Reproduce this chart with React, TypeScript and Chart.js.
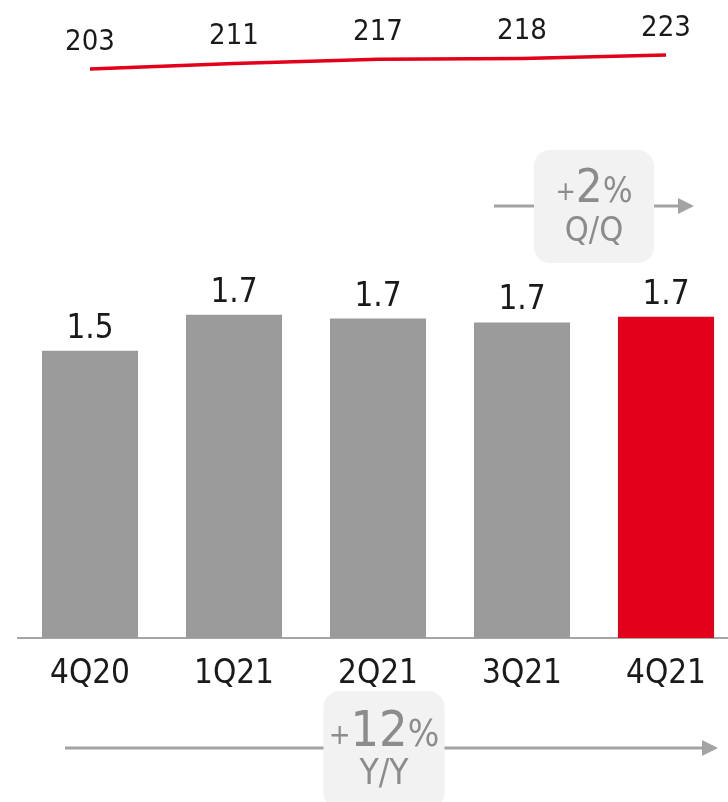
import React, { useEffect, useRef } from "react";
import { Chart, registerables } from "chart.js";

Chart.register(...registerables);

// ---- data ----
const categories = ["4Q20", "1Q21", "2Q21", "3Q21", "4Q21"];
const barValues = [1.52, 1.71, 1.69, 1.67, 1.7];
const barLabels = ["1.5", "1.7", "1.7", "1.7", "1.7"];
const lineValues = [203, 211, 217, 218, 223];
const lineLabels = ["203", "211", "217", "218", "223"];
const qoqChange = "2";
const qoqLabel = "Q/Q";
const yoyChange = "12";
const yoyLabel = "Y/Y";

// ---- style ----
const FONT = "'DejaVu Sans Condensed', 'DejaVu Sans', sans-serif";
const GREY = "#9b9b9b";
const RED = "#e2001a";
const TEXT = "#1a1a1a";
const BADGE_TEXT = "#8c8c8c";
const BADGE_FILL = "#f2f2f2";
const ARROW = "#a3a3a3";
const barColors = categories.map((_, i) => (i === categories.length - 1 ? RED : GREY));

function font(size: number) {
  return `${size}px ${FONT}`;
}

function drawArrow(ctx: CanvasRenderingContext2D, x0: number, x1: number, y: number) {
  ctx.save();
  ctx.strokeStyle = ARROW;
  ctx.fillStyle = ARROW;
  ctx.lineWidth = 3;
  ctx.beginPath();
  ctx.moveTo(x0, y);
  ctx.lineTo(x1 - 14, y);
  ctx.stroke();
  ctx.beginPath();
  ctx.moveTo(x1, y);
  ctx.lineTo(x1 - 16, y - 8);
  ctx.lineTo(x1 - 16, y + 8);
  ctx.closePath();
  ctx.fill();
  ctx.restore();
}

function drawBadge(
  ctx: CanvasRenderingContext2D,
  cx: number,
  top: number,
  w: number,
  h: number,
  big: string,
  sub: string,
  base1: number,
  base2: number,
  sizes: { plus: number; big: number; pct: number; sub: number }
) {
  ctx.save();
  ctx.fillStyle = BADGE_FILL;
  ctx.beginPath();
  (ctx as any).roundRect(cx - w / 2, top, w, h, 16);
  ctx.fill();
  ctx.fillStyle = BADGE_TEXT;
  ctx.textBaseline = "alphabetic";
  ctx.textAlign = "left";
  ctx.font = font(sizes.plus);
  const wp = ctx.measureText("+").width;
  ctx.font = font(sizes.big);
  const wb = ctx.measureText(big).width;
  ctx.font = font(sizes.pct);
  const wc = ctx.measureText("%").width;
  let x = cx - (wp + wb + wc) / 2;
  ctx.font = font(sizes.plus);
  ctx.fillText("+", x, base1 - 2);
  x += wp;
  ctx.font = font(sizes.big);
  ctx.fillText(big, x, base1);
  x += wb;
  ctx.font = font(sizes.pct);
  ctx.fillText("%", x, base1);
  ctx.textAlign = "center";
  ctx.font = font(sizes.sub);
  ctx.fillText(sub, cx, base2);
  ctx.restore();
}

const annotationPlugin = {
  id: "annotations",
  beforeDraw(chart: any) {
    const ctx: CanvasRenderingContext2D = chart.ctx;
    const xs = chart.scales.x;
    const n = categories.length;
    const xFirst = xs.getPixelForValue(0);
    const xPrev = xs.getPixelForValue(n - 2);
    const xLast = xs.getPixelForValue(n - 1);

    // Q/Q badge
    const qcx = (xPrev + xLast) / 2;
    drawArrow(ctx, qcx - 100, qcx + 100, 206);
    drawBadge(ctx, qcx, 150, 120, 113, qoqChange, qoqLabel, 202, 241, {
      plus: 27,
      big: 47,
      pct: 35,
      sub: 34,
    });

    // Y/Y badge
    const ycx = (xFirst + xLast) / 2 + 6;
    drawArrow(ctx, xFirst - 25, xLast + 52, 748);
    drawBadge(ctx, ycx, 691, 121, 118, yoyChange, yoyLabel, 746, 784, {
      plus: 29,
      big: 50,
      pct: 37,
      sub: 35,
    });
  },
  afterDatasetsDraw(chart: any) {
    const ctx: CanvasRenderingContext2D = chart.ctx;
    ctx.save();
    ctx.fillStyle = TEXT;
    ctx.textAlign = "center";
    ctx.textBaseline = "alphabetic";
    const barMeta = chart.getDatasetMeta(0);
    ctx.font = font(33);
    barMeta.data.forEach((el: any, i: number) => {
      ctx.fillText(barLabels[i], el.x, el.y - 13);
    });
    const lineMeta = chart.getDatasetMeta(1);
    ctx.font = font(29);
    lineMeta.data.forEach((el: any, i: number) => {
      ctx.fillText(lineLabels[i], el.x, el.y - 19);
    });
    ctx.restore();
  },
};

export default function App() {
  const ref = useRef<HTMLCanvasElement | null>(null);

  useEffect(() => {
    if (!ref.current) return;
    const chart = new Chart(ref.current, {
      type: "bar",
      data: {
        labels: categories,
        datasets: [
          {
            type: "bar",
            data: barValues,
            backgroundColor: barColors,
            borderWidth: 0,
            categoryPercentage: 1,
            barPercentage: 0.667,
            yAxisID: "y",
            order: 2,
          } as any,
          {
            type: "line",
            data: lineValues,
            borderColor: RED,
            borderWidth: 3.5,
            pointRadius: 0,
            tension: 0,
            fill: false,
            yAxisID: "y2",
            order: 1,
          } as any,
        ],
      },
      options: {
        responsive: false,
        animation: false,
        devicePixelRatio: 1,
        layout: { padding: { top: 20, left: 18, right: 2, bottom: 90.4 } },
        plugins: {
          legend: { display: false },
          tooltip: { enabled: false },
        },
        scales: {
          x: {
            grid: { display: false, drawTicks: false },
            border: { display: true, color: "#a6a6a6", width: 2 },
            ticks: {
              color: TEXT,
              padding: 17,
              font: { family: FONT, size: 33 },
              maxRotation: 0,
              autoSkip: false,
            },
          },
          y: {
            display: false,
            min: 0,
            max: 3.27,
          },
          y2: {
            display: false,
            min: -609.86,
            max: 273,
          },
        },
      },
      plugins: [annotationPlugin],
    } as any);
    return () => chart.destroy();
  }, []);

  return (
    <div
      style={{
        position: "fixed",
        left: 0,
        top: 0,
        width: 728,
        height: 802,
        overflow: "hidden",
        background: "#ffffff",
      }}
    >
      <canvas ref={ref} width={740} height={802} style={{ display: "block" }} />
    </div>
  );
}
